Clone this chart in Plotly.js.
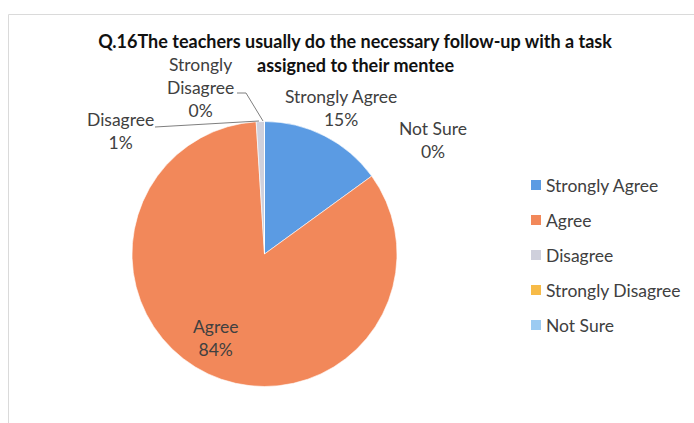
<!DOCTYPE html>
<html>
<head>
<meta charset="utf-8">
<script src="https://cdn.plot.ly/plotly-3.0.1.min.js"></script>
<style>
html,body{margin:0;padding:0;background:#fff;}
#chart{width:694px;height:423px;}
</style>
</head>
<body>
<div id="chart"></div>
<script>
// ---- data ----
var labels = ["Strongly Agree", "Agree", "Disagree", "Strongly Disagree", "Not Sure"];
var values = [15, 84, 1, 0, 0];
var colors = ["#5b9be3", "#f2885a", "#cfd0dc", "#f7bb48", "#9ccbf2"];
var titleLine1 = "Q.16The teachers usually do the necessary follow-up with a task";
var titleLine2 = "assigned to their mentee";

// ---- layout helpers ----
var W = 694, H = 423;
function px(x) { return x / W; }
function py(y) { return 1 - y / H; }

var labelFont = {family: "Lato, 'Open Sans', sans-serif", size: 17.5, color: "#404040"};
var titleFont = {family: "Lato, 'Open Sans', sans-serif", size: 18, weight: "bold", color: "#111111"};

// data-label positions (pixel centres) for each slice
var labelPos = [[341, 108], [215, 338], [120, 131], [200, 88], [433, 140]];

var annotations = [];
// second title line
annotations.push({
  xref: "paper", yref: "paper", x: px(355), y: py(65),
  xanchor: "center", yanchor: "middle",
  text: titleLine2, showarrow: false, font: titleFont
});
for (var i = 0; i < labels.length; i++) {
  var name = i === 3 ? labels[i].replace(" ", "<br>") : labels[i];
  annotations.push({
    xref: "paper", yref: "paper",
    x: px(labelPos[i][0]), y: py(labelPos[i][1]),
    xanchor: "center", yanchor: "middle",
    text: name + "<br>" + values[i] + "%",
    showarrow: false, font: labelFont, align: "center"
  });
}

// legend (custom, to match spacing)
var legendX = 531, legendY0 = 185, legendStep = 35, sq = 10;
var shapes = [];
for (var j = 0; j < labels.length; j++) {
  var cy = legendY0 + j * legendStep;
  shapes.push({
    type: "rect", xref: "paper", yref: "paper",
    x0: px(legendX), x1: px(legendX + sq),
    y0: py(cy + sq / 2), y1: py(cy - sq / 2),
    fillcolor: colors[j], line: {width: 0}
  });
  annotations.push({
    xref: "paper", yref: "paper",
    x: px(legendX + sq + 3), y: py(cy),
    xanchor: "left", yanchor: "middle",
    text: labels[j], showarrow: false, font: labelFont
  });
}

// leader lines
function pathFrom(pts) {
  return pts.map(function (p, k) { return (k ? "L" : "M") + px(p[0]) + "," + py(p[1]); }).join(" ");
}
shapes.push({type: "path", xref: "paper", yref: "paper",
  path: pathFrom([[155, 127], [259, 121]]), line: {color: "#7f7f7f", width: 1}});
shapes.push({type: "path", xref: "paper", yref: "paper",
  path: pathFrom([[237, 93], [246, 93], [263, 121]]), line: {color: "#7f7f7f", width: 1}});
// chart frame
shapes.push({type: "path", xref: "paper", yref: "paper",
  path: pathFrom([[8.5, 423], [8.5, 14.5], [694, 14.5]]), line: {color: "#dadada", width: 1}});

var trace = {
  type: "pie",
  labels: labels,
  values: values,
  sort: false,
  direction: "clockwise",
  rotation: 0,
  marker: {colors: colors, line: {color: "#ffffff", width: 0.6}},
  textinfo: "none",
  hoverinfo: "label+percent",
  domain: {x: [px(132), px(397)], y: [py(387), py(121)]},
  showlegend: false
};

var layout = {
  width: W, height: H,
  margin: {l: 0, r: 0, t: 0, b: 0},
  paper_bgcolor: "#ffffff",
  plot_bgcolor: "#ffffff",
  showlegend: false,
  title: {
    text: titleLine1,
    x: px(355), xanchor: "center",
    y: py(42), yanchor: "middle",
    xref: "paper", yref: "paper",
    font: titleFont
  },
  annotations: annotations,
  shapes: shapes
};

Plotly.newPlot("chart", [trace], layout, {displayModeBar: false, staticPlot: true});
</script>
</body>
</html>
